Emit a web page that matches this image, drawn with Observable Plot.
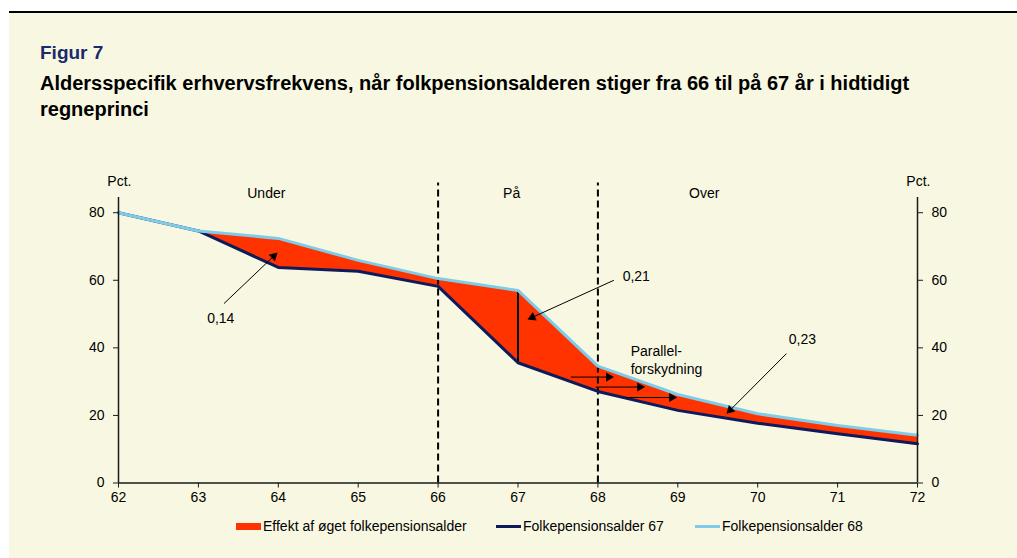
<!DOCTYPE html>
<html>
<head>
<meta charset="utf-8">
<script src="https://cdn.jsdelivr.net/npm/d3@7"></script>
<script src="https://cdn.jsdelivr.net/npm/@observablehq/plot@0.6"></script>
<style>
  html, body { margin: 0; padding: 0; background: #ffffff; }
  #page { position: relative; width: 1017px; height: 558px; overflow: hidden; font-family: "Liberation Sans", Arial, sans-serif; }
  #panel { position: absolute; left: 9px; top: 11px; right: 0; bottom: 0; background: #F8F8E2; border-top: 2px solid #000; }
  .fig { position: absolute; left: 40px; top: 41px; font-size: 19px; line-height: 24px; font-weight: bold; color: #1B2A6B; }
  .title { position: absolute; left: 40px; top: 70px; font-size: 20px; line-height: 26px; font-weight: bold; color: #000; width: 975px; }
  #chart { position: absolute; left: 0; top: 160px; }
  .leg { position: absolute; top: 518px; font-size: 14px; line-height: 16px; color: #000; white-space: nowrap; }
  .sw { position: absolute; }
</style>
</head>
<body>
<div id="page">
  <div id="panel"></div>
  <div class="fig">Figur 7</div>
  <div class="title">Aldersspecifik erhvervsfrekvens, når folkpensionsalderen stiger fra 66 til på 67 år i hidtidigt<br>regneprinci</div>
  <div id="chart"></div>
  <div class="sw" style="left:236px; top:523px; width:25px; height:7px; background:#FF3300;"></div>
  <div class="leg" style="left:263px;">Effekt af øget folkepensionsalder</div>
  <div class="sw" style="left:496px; top:525px; width:25px; height:3px; background:#0D1B5B;"></div>
  <div class="leg" style="left:523px;">Folkepensionsalder 67</div>
  <div class="sw" style="left:695px; top:525px; width:25px; height:3px; background:#7FCCE8;"></div>
  <div class="leg" style="left:722px;">Folkepensionsalder 68</div>
</div>
<script>
// ---- data ----
const ages = [62, 63, 64, 65, 66, 67, 68, 69, 70, 71, 72];
const fp67 = [80, 74.6, 63.8, 62.7, 58.2, 35.6, 27.1, 21.5, 17.7, 14.6, 11.6];
const fp68 = [80, 74.6, 72.4, 65.9, 60.5, 57.0, 34.6, 26.2, 20.5, 17.0, 14.1];
const xTicks = [62, 63, 64, 65, 66, 67, 68, 69, 70, 71, 72];
const yTicks = [0, 20, 40, 60, 80];
const dividers = [66, 68];
const sectionNames = ["Under", "På", "Over"];
const sectionX = [63.85, 66.92, 69.33];
const valueLabels = ["0,14", "0,21", "0,23"];
const valueLabelX = [63.28, 68.48, 70.56];
const valueLabelY = [48.6, 61.2, 42.5];
// arrows: [x1, y1, x2, y2]
const arrowX1 = [63.32, 68.20, 70.36, 67.66, 67.97, 68.35];
const arrowY1 = [53.1, 60.0, 38.3, 31.35, 28.4, 25.3];
const arrowX2 = [63.99, 67.12, 69.61, 68.20, 68.59, 68.99];
const arrowY2 = [68.2, 48.4, 20.5, 31.35, 28.4, 25.3];
const parallelText = ["Parallel-", "forskydning"];
const parallelY = [38.8, 33.5];
const parallelX = 68.41;

// ---- layout ----
const W = 1017, H = 350, ML = 118, MR = 100, MT = 37, MB = 27.5;
const yMax = 84.5;
const kx = (W - ML - MR) / (72 - 62);
const ky = (H - MT - MB) / yMax;

const rows = ages.map((a, i) => ({age: a, lo: fp67[i], hi: fp68[i]}));
const arrows = arrowX1.map((x1, i) => {
  const x2 = arrowX2[i], y1 = arrowY1[i], y2 = arrowY2[i];
  const dx = (x2 - x1) * kx, dy = -(y2 - y1) * ky;
  const len = Math.hypot(dx, dy);
  const ux = dx / len, uy = dy / len;
  const back = 5.2;
  return {
    x1, y1, x2, y2,
    hx: x2 - ux * back / kx,
    hy: y2 + uy * back / ky,
    lx: x2 - ux * 6 / kx,
    ly: y2 + uy * 6 / ky,
    angle: Math.atan2(dx, -dy) * 180 / Math.PI
  };
});

const font = "Liberation Sans, Arial, sans-serif";
const axisColor = "#1a1a1a";

const chart = Plot.plot({
  width: W, height: H,
  marginLeft: ML, marginRight: MR, marginTop: MT, marginBottom: MB,
  style: {background: "transparent", fontFamily: font, fontSize: "14px", color: "#000", overflow: "visible"},
  x: {domain: [62, 72]},
  y: {domain: [0, yMax]},
  marks: [
    Plot.areaY(rows, {x: "age", y1: "lo", y2: "hi", fill: "#FF3300", curve: "linear"}),
    Plot.ruleX(dividers, {y1: 0, y2: 88.8, stroke: "#000", strokeWidth: 2, strokeDasharray: "7,4"}),
    Plot.ruleX([67], {y1: fp67[5], y2: fp68[5], stroke: "#000", strokeWidth: 2}),
    Plot.line(rows, {x: "age", y: "lo", stroke: "#0D1B5B", strokeWidth: 3}),
    Plot.line(rows, {x: "age", y: "hi", stroke: "#7FCCE8", strokeWidth: 3}),
    Plot.link(arrows, {x1: "x1", y1: "y1", x2: "lx", y2: "ly", stroke: "#000", strokeWidth: 1}),
    Plot.dot(arrows, {x: "hx", y: "hy", symbol: "triangle", r: 3.4, fill: "#000", stroke: "none", rotate: "angle"}),
    Plot.ruleY([0], {stroke: axisColor, strokeWidth: 1.5}),
    Plot.ruleX([62, 72], {y1: 0, y2: yMax, stroke: axisColor, strokeWidth: 1.5}),
    Plot.axisY(yTicks, {anchor: "left", tickSize: 5, tickPadding: 9, label: null, fontSize: 14, stroke: axisColor}),
    Plot.axisY(yTicks, {anchor: "right", tickSize: 5, tickPadding: 9, label: null, fontSize: 14, stroke: axisColor}),
    Plot.axisX(xTicks, {tickSize: 5, tickPadding: 4, label: null, fontSize: 14, tickFormat: d => String(d), stroke: axisColor}),
    Plot.text(["Pct."], {x: 61.86, y: 89.1, text: d => d, textAnchor: "start", fontSize: 14, fill: "#000"}),
    Plot.text(["Pct."], {x: 71.86, y: 89.1, text: d => d, textAnchor: "start", fontSize: 14, fill: "#000"}),
    Plot.text(sectionNames, {x: (d, i) => sectionX[i], y: 85.7, text: d => d, fontSize: 14, fill: "#000"}),
    Plot.text(valueLabels, {x: (d, i) => valueLabelX[i], y: (d, i) => valueLabelY[i], text: d => d, fontSize: 14, fill: "#000"}),
    Plot.text(parallelText, {x: parallelX, y: (d, i) => parallelY[i], text: d => d, textAnchor: "start", fontSize: 14, fill: "#000"})
  ]
});
document.getElementById("chart").appendChild(chart);
</script>
</body>
</html>
